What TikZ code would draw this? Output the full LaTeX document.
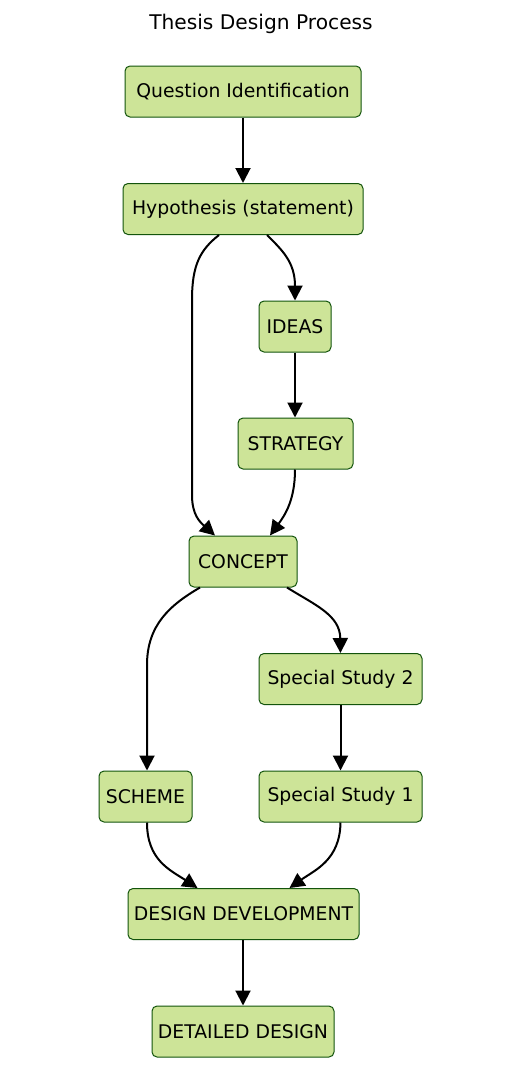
\documentclass[tikz,border=0pt]{standalone}
\usepackage{fontspec}
\setmainfont{DejaVu Sans}
\usetikzlibrary{arrows.meta}
\definecolor{boxfill}{HTML}{CDE498}
\definecolor{boxdraw}{HTML}{13540C}
\definecolor{edgecol}{HTML}{000000}
\tikzset{
  box/.style={draw=boxdraw, fill=boxfill, line width=1pt, rounded corners=5pt, inner sep=0pt, minimum height=51pt, font=\fontsize{18.8}{22}\selectfont, text=black},
  edge/.style={draw=edgecol, line width=2pt, -{Triangle[length=15pt,width=15pt]}},
}
\begin{document}
\begin{tikzpicture}[x=1pt,y=-1pt]
\useasboundingbox[fill=white] (0,0) rectangle (522,1068);
\node[font=\fontsize{20.2}{24}\selectfont] (title) at (261,24) {Thesis Design Process};
\node[box, minimum width=236pt] (qi) at (243,91.5) {Question Identification};
\node[box, minimum width=240pt] (hyp) at (243,209) {Hypothesis (statement)};
\node[box, minimum width=72pt] (ideas) at (295,326.5) {IDEAS};
\node[box, minimum width=115pt] (strat) at (295.5,443.5) {STRATEGY};
\node[box, minimum width=108pt] (concept) at (243,561.5) {CONCEPT};
\node[box, minimum width=163pt] (ss2) at (340.5,679) {Special Study 2};
\node[box, minimum width=93pt] (scheme) at (145.5,796.5) {SCHEME};
\node[box, minimum width=163pt] (ss1) at (340.5,796.5) {Special Study 1};
\node[box, minimum width=231pt] (dd) at (243.5,914) {DESIGN DEVELOPMENT};
\node[box, minimum width=182pt] (det) at (243,1031.5) {DETAILED DESIGN};

\draw[edge] (qi.south) -- (hyp.north);
\draw[edge] ([xshift=24pt]hyp.south) .. controls (282,250) and (295,262) .. (ideas.north);
\draw[edge] ([xshift=-24pt]hyp.south) .. controls (200,250) and (192,265) .. (192,300)
  -- (192,495) .. controls (192,515) and (200,522) .. ([xshift=-28pt]concept.north);
\draw[edge] (ideas.south) -- ([xshift=-0.5pt]strat.north);
\draw[edge] ([xshift=-0.5pt]strat.south) .. controls (295,500) and (285,515) .. ([xshift=27pt]concept.north);
\draw[edge] ([xshift=-43pt]concept.south) .. controls (170,605) and (147,625) .. (147,665)
  -- (scheme.north -| 147,0);
\draw[edge] ([xshift=44pt]concept.south) .. controls (315,605) and (340,615) .. (ss2.north);
\draw[edge] (ss2.south) -- (ss1.north);
\draw[edge] (scheme.south -| 147,0) .. controls (147,860) and (170,870) .. ([xshift=-46pt]dd.north);
\draw[edge] (ss1.south) .. controls (340,860) and (315,870) .. ([xshift=46pt]dd.north);
\draw[edge] ([xshift=-0.5pt]dd.south) -- (det.north);
\end{tikzpicture}
\end{document}
